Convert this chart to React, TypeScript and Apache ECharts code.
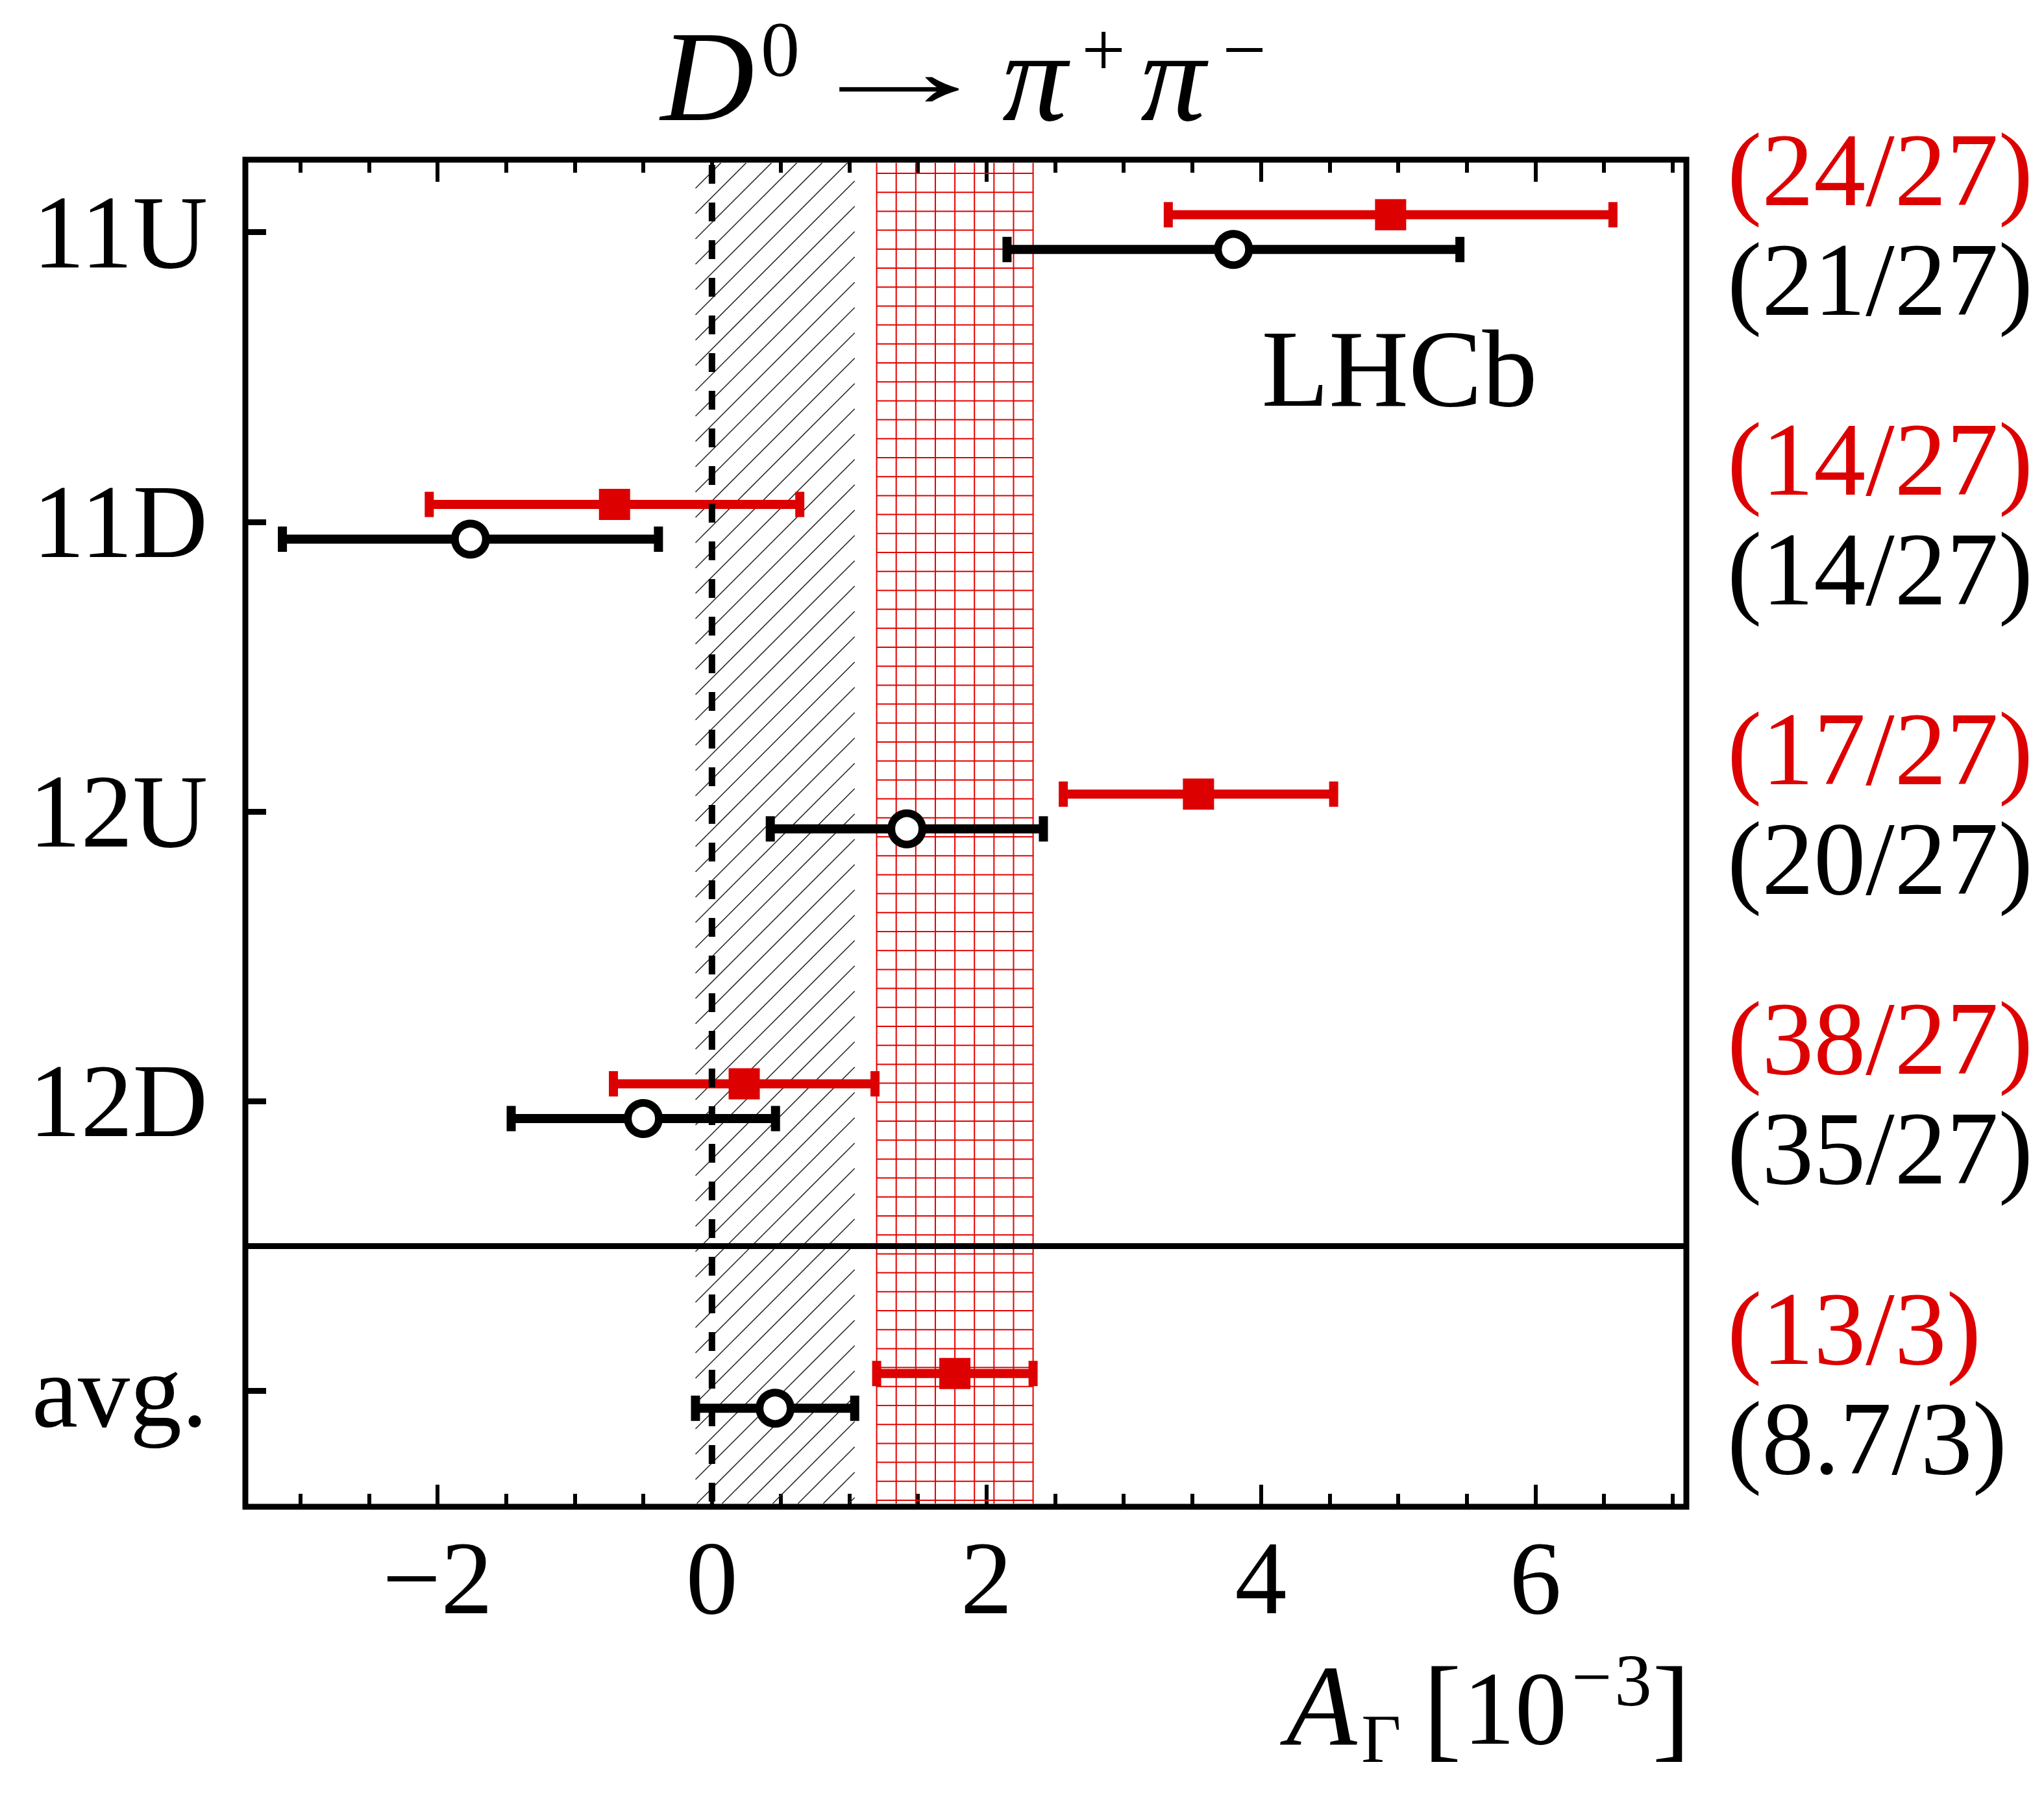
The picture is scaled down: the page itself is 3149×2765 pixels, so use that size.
import React, { useEffect, useRef } from 'react';
import * as echarts from 'echarts';

// Rows, top to bottom, and their positions on the value axis
const rowLabels = ['11U', '11D', '12U', '12D', 'avg.'];
const rowPositions = [4, 3, 2, 1, 0];
const AVG_INDEX = 4;

// A_Gamma [10^-3]: red (filled squares) and black (open circles) results
const redValues = [4.945, -0.71, 3.545, 0.235, 1.77];
const redErrors = [1.62, 1.35, 0.985, 0.953, 0.57];
const blackValues = [3.8, -1.76, 1.42, -0.5, 0.46];
const blackErrors = [1.65, 1.37, 0.995, 0.963, 0.58];

// chi2 / ndf per row
const redChi2 = ['(24/27)', '(14/27)', '(17/27)', '(38/27)', '(13/3)'];
const blackChi2 = ['(21/27)', '(14/27)', '(20/27)', '(35/27)', '(8.7/3)'];

// Axis ticks
const xMajorTicks = [-2, 0, 2, 4, 6];
const xMinorTicks = [-3, -2.5, -1.5, -1, -0.5, 0.5, 1, 1.5, 2.5, 3, 3.5, 4.5, 5, 5.5, 6.5, 7];
const X_MIN = -3.4;
const X_MAX = 7.1;
const Y_MIN = -0.4;
const Y_MAX = 4.25;
const SEPARATOR_Y = 0.5;
const REFERENCE_X = 0;

const ROW_OFFSET = 0.06;
const RED = '#dd0000';
const FONT = '"Liberation Serif", "Times New Roman", serif';
const BORDER_INSET = 5;

function minusFmt(v: number): string {
  return v < 0 ? '\u2212' + Math.abs(v) : String(v);
}

function rowIndexOf(value: number): number {
  return rowPositions.indexOf(Math.round(value));
}

function errorBarSeries(values: number[], errors: number[], offset: number, color: string) {
  return {
    type: 'custom',
    z: 3,
    silent: true,
    data: values.map((v, i) => [v - errors[i], v + errors[i], rowPositions[i] + offset]),
    encode: { x: [0, 1], y: 2 },
    renderItem: (_p: any, api: any) => {
      const y = api.value(2);
      const p0 = api.coord([api.value(0), y]);
      const p1 = api.coord([api.value(1), y]);
      const st = { stroke: color, lineWidth: 14 };
      const cap = 19.5;
      return {
        type: 'group',
        children: [
          { type: 'line', shape: { x1: p0[0], y1: p0[1], x2: p1[0], y2: p1[1] }, style: st },
          { type: 'line', shape: { x1: p0[0], y1: p0[1] - cap, x2: p0[0], y2: p0[1] + cap }, style: st },
          { type: 'line', shape: { x1: p1[0], y1: p1[1] - cap, x2: p1[0], y2: p1[1] + cap }, style: st },
        ],
      };
    },
  };
}

// Band with 45 degree hatching
function hatchBandSeries(lo: number, hi: number) {
  return {
    type: 'custom',
    z: 1,
    silent: true,
    data: [[lo, hi]],
    encode: { x: [0, 1] },
    renderItem: (_p: any, api: any) => {
      const tl = api.coord([api.value(0), Y_MAX]);
      const br = api.coord([api.value(1), Y_MIN]);
      const x0 = tl[0];
      const x1 = br[0];
      const yT = tl[1] + BORDER_INSET;
      const yB = br[1] - BORDER_INSET;
      const H = yB - yT;
      const step = 39;
      const children: any[] = [];
      for (let c = x0 - H; c < x1; c += step) {
        const sLo = Math.max(0, x0 - c);
        const sHi = Math.min(H, x1 - c);
        if (sHi > sLo) {
          children.push({
            type: 'line',
            shape: { x1: c + sLo, y1: yB - sLo, x2: c + sHi, y2: yB - sHi },
            style: { stroke: '#2a2a2a', lineWidth: 1.6 },
          });
        }
      }
      return { type: 'group', children };
    },
  };
}

// Band filled with a fine square grid
function gridBandSeries(lo: number, hi: number, color: string) {
  return {
    type: 'custom',
    z: 1,
    silent: true,
    data: [[lo, hi]],
    encode: { x: [0, 1] },
    renderItem: (_p: any, api: any) => {
      const tl = api.coord([api.value(0), Y_MAX]);
      const br = api.coord([api.value(1), Y_MIN]);
      const x0 = tl[0];
      const x1 = br[0];
      const yT = tl[1] + BORDER_INSET;
      const yB = br[1] - BORDER_INSET;
      const step = (x1 - x0) / Math.max(1, Math.round((x1 - x0) / 29.2));
      const st = { stroke: color, lineWidth: 2 };
      const children: any[] = [];
      for (let x = x0; x <= x1 + 0.5; x += step) {
        children.push({ type: 'line', shape: { x1: x, y1: yT, x2: x, y2: yB }, style: st });
      }
      for (let y = yT + 16; y < yB; y += 29.2) {
        children.push({ type: 'line', shape: { x1: x0, y1: y, x2: x1, y2: y }, style: st });
      }
      return { type: 'group', children };
    },
  };
}

function verticalLineSeries(xValue: number) {
  return {
    type: 'custom',
    z: 4,
    silent: true,
    data: [[xValue]],
    encode: { x: 0 },
    renderItem: (_p: any, api: any) => {
      const a = api.coord([api.value(0), Y_MAX]);
      const b = api.coord([api.value(0), Y_MIN]);
      return {
        type: 'line',
        shape: { x1: a[0], y1: b[1] - 8, x2: b[0], y2: a[1] },
        style: { stroke: '#000', lineWidth: 10, lineDash: [29, 29] },
      };
    },
  };
}

function horizontalLineSeries(yValue: number) {
  return {
    type: 'custom',
    z: 4,
    silent: true,
    data: [[yValue]],
    encode: { y: 0 },
    renderItem: (_p: any, api: any) => {
      const a = api.coord([X_MIN, api.value(0)]);
      const b = api.coord([X_MAX, api.value(0)]);
      return {
        type: 'line',
        shape: { x1: a[0], y1: a[1], x2: b[0], y2: b[1] },
        style: { stroke: '#000', lineWidth: 9 },
      };
    },
  };
}

function textPiece(
  text: string,
  x: number,
  y: number,
  size: number,
  italic = false,
  scaleX = 1,
) {
  return {
    type: 'text',
    x,
    y,
    scaleX,
    silent: true,
    style: {
      text,
      fill: '#000',
      fontFamily: FONT,
      fontSize: size,
      fontStyle: italic ? 'italic' : 'normal',
      align: 'center',
      verticalAlign: 'middle',
      textAlign: 'center',
      textVerticalAlign: 'middle',
    },
  };
}

function buildOption() {
  const tickAxis = (position: 'top' | 'bottom', values: number[], length: number, labels: boolean) => ({
    type: 'value',
    position,
    min: X_MIN,
    max: X_MAX,
    axisLine: { show: false, onZero: false },
    splitLine: { show: false },
    axisTick: {
      show: true,
      inside: true,
      length,
      customValues: values,
      lineStyle: { color: '#000', width: 6 },
    },
    axisLabel: labels
      ? {
          show: true,
          customValues: values,
          formatter: (v: number) => minusFmt(v),
          fontFamily: FONT,
          fontSize: 160,
          color: '#000',
          margin: 30,
        }
      : { show: false },
  });

  const hatchLo = blackValues[AVG_INDEX] - blackErrors[AVG_INDEX];
  const hatchHi = blackValues[AVG_INDEX] + blackErrors[AVG_INDEX];
  const gridLo = redValues[AVG_INDEX] - redErrors[AVG_INDEX];
  const gridHi = redValues[AVG_INDEX] + redErrors[AVG_INDEX];

  return {
    animation: false,
    backgroundColor: '#fff',
    grid: {
      left: 378,
      right: 551,
      top: 246,
      bottom: 444,
      show: true,
      borderColor: '#000',
      borderWidth: 9,
      backgroundColor: 'transparent',
    },
    xAxis: [
      tickAxis('bottom', xMajorTicks, 34, true),
      tickAxis('bottom', xMinorTicks, 20, false),
      tickAxis('top', xMajorTicks, 34, false),
      tickAxis('top', xMinorTicks, 20, false),
    ],
    yAxis: [
      {
        type: 'value',
        position: 'left',
        min: Y_MIN,
        max: Y_MAX,
        axisLine: { show: false, onZero: false },
        splitLine: { show: false },
        axisTick: {
          show: true,
          inside: true,
          length: 32,
          customValues: rowPositions,
          lineStyle: { color: '#000', width: 9 },
        },
        axisLabel: {
          show: true,
          customValues: rowPositions,
          formatter: (v: number) => rowLabels[rowIndexOf(v)] ?? '',
          fontFamily: FONT,
          fontSize: 160,
          color: '#000',
          margin: 58,
          padding: [0, 0, 18, 0],
        },
      },
      {
        type: 'value',
        position: 'right',
        min: Y_MIN,
        max: Y_MAX,
        axisLine: { show: false, onZero: false },
        splitLine: { show: false },
        axisTick: { show: false },
        axisLabel: {
          show: true,
          customValues: rowPositions,
          formatter: (v: number) => {
            const i = rowIndexOf(v);
            if (i < 0) return '';
            return `{r|${redChi2[i]}}\n{k|${blackChi2[i]}}`;
          },
          margin: 63,
          padding: [0, 0, 23, 0],
          rich: {
            r: { color: RED, fontFamily: FONT, fontSize: 160, lineHeight: 169 },
            k: { color: '#000', fontFamily: FONT, fontSize: 160, lineHeight: 169 },
          },
        },
      },
    ],
    series: [
      hatchBandSeries(hatchLo, hatchHi),
      gridBandSeries(gridLo, gridHi, '#e60000'),
      errorBarSeries(redValues, redErrors, ROW_OFFSET, RED),
      errorBarSeries(blackValues, blackErrors, -ROW_OFFSET, '#000'),
      verticalLineSeries(REFERENCE_X),
      horizontalLineSeries(SEPARATOR_Y),
      {
        type: 'scatter',
        z: 5,
        silent: true,
        symbol: 'rect',
        symbolSize: 48,
        itemStyle: { color: RED, opacity: 1 },
        data: redValues.map((v, i) => [v, rowPositions[i] + ROW_OFFSET]),
      },
      {
        type: 'scatter',
        z: 5,
        silent: true,
        symbol: 'circle',
        symbolSize: 48,
        itemStyle: { color: '#fff', borderColor: '#000', borderWidth: 12, opacity: 1 },
        data: blackValues.map((v, i) => [v, rowPositions[i] - ROW_OFFSET]),
      },
    ],
    graphic: [
      // Title: D^0 -> pi^+ pi^-
      textPiece('D', 1090, 117, 200, true),
      textPiece('0', 1202, 76, 120),
      textPiece('\u2192', 1385, 110, 160, false, 1.94),
      textPiece('\u03c0', 1594, 117, 200, true),
      textPiece('+', 1700, 76, 120),
      textPiece('\u03c0', 1807, 117, 200, true),
      textPiece('\u2212', 1917, 76, 120),
      // Experiment label
      textPiece('LHCb', 2156, 568, 170),
      // Axis title: A_Gamma [10^-3]
      textPiece('A', 2036, 2628, 178, true),
      textPiece('\u0393', 2128, 2678, 106),
      textPiece('[', 2222, 2630, 178),
      textPiece('10', 2334, 2632, 160),
      textPiece('\u2212', 2452, 2583, 110),
      textPiece('3', 2516, 2588, 115),
      textPiece(']', 2575, 2630, 178),
    ],
  };
}

export default function App() {
  const ref = useRef<HTMLDivElement>(null);
  useEffect(() => {
    document.body.style.margin = '0';
    const chart = echarts.init(ref.current as HTMLDivElement, null, { renderer: 'svg' });
    chart.setOption(buildOption() as any);
    return () => chart.dispose();
  }, []);
  return <div ref={ref} style={{ width: 3149, height: 2765 }} />;
}
